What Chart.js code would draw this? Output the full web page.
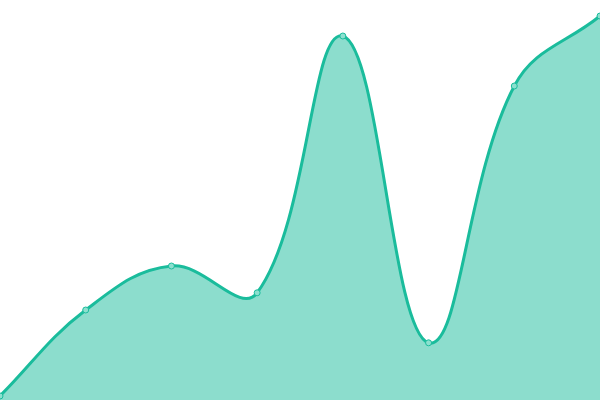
<!DOCTYPE html>
<html>
<head>
<meta charset="utf-8">
<script src="https://cdn.jsdelivr.net/npm/chart.js@4"></script>
<style>
    html, body { margin: 0; padding: 0; background: #fff; }
    #box { width: 600px; height: 400px; }
</style>
</head>
<body>
<div id="box"><canvas id="grafico"></canvas></div>
<script>
const categorias = ['A', 'B', 'C', 'D', 'E', 'F', 'G', 'H'];
const valores = [1, 22.5, 33.5, 26.8, 91, 14.3, 78.5, 96];
const escalaMin = 0;
const escalaMax = 100;

const ctx = document.getElementById('grafico').getContext('2d');
new Chart(ctx, {
    type: 'line',
    data: {
        labels: categorias,
        datasets: [{
            data: valores,
            borderColor: '#1abc9c',
            backgroundColor: 'rgba(26, 188, 156, 0.5)',
            pointBackgroundColor: '#8ce0cf',
            pointBorderColor: '#1abc9c',
            pointBorderWidth: 1,
            pointRadius: 3,
            borderWidth: 3,
            tension: 0.4,
            fill: true
        }]
    },
    options: {
        responsive: true,
        maintainAspectRatio: false,
        animation: false,
        layout: { padding: 0, autoPadding: false },
        plugins: { legend: { display: false }, tooltip: { enabled: false } },
        scales: {
            x: { display: false },
            y: { display: false, min: escalaMin, max: escalaMax }
        }
    }
});
</script>
</body>
</html>
